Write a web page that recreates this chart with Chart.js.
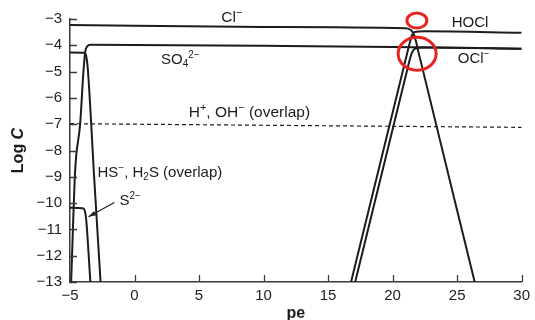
<!DOCTYPE html>
<html><head><meta charset="utf-8">
<script src="https://cdn.jsdelivr.net/npm/chart.js@4.4.0/dist/chart.umd.min.js"></script>
<style>html,body{margin:0;padding:0;background:#fff;}#wrap{width:535px;height:320px;}</style>
</head><body><div id="wrap"><canvas id="c" width="535" height="320"></canvas></div>
<script>
// ---- data (pe on x, log C on y) ----
const peTicks = [-5, 0, 5, 10, 15, 20, 25, 30];
const logCTicks = [-3, -4, -5, -6, -7, -8, -9, -10, -11, -12, -13];

const clPe   = [-5, 10, 21.0, 21.35, 21.55, 21.75, 22.0, 26.36];
const clLogC = [-3.23, -3.30, -3.35, -3.40, -3.50, -3.74, -4.25, -13];

const hoclPe   = [16.78, 21.0, 21.3, 21.5, 21.7, 22.5, 30];
const hoclLogC = [-13, -4.56, -3.96, -3.62, -3.49, -3.47, -3.52];

const oclPe   = [17.1, 21.0, 21.3, 21.5, 21.75, 22.5, 30];
const oclLogC = [-13, -5.2, -4.6, -4.28, -4.12, -4.08, -4.13];

const so4Pe   = [-4.91, -4.6, -4.21, -3.96, -3.82, -3.68, -3.4, 10, 20, 30];
const so4LogC = [-13, -8.76, -6.97, -5.0, -4.25, -4.05, -3.98, -4.02, -4.06, -4.13];

const hsPe   = [-5, -3.9, -3.75, -3.62, -3.36, -3.16, -2.63];
const hsLogC = [-4.27, -4.28, -4.4, -4.9, -6.97, -8.76, -13];

const s2Pe   = [-5, -4.0, -3.85, -3.75, -3.42];
const s2LogC = [-10.18, -10.2, -10.3, -10.6, -13];

const hohPe   = [-5, 30];
const hohLogC = [-6.98, -7.12];

// ---- label text & anchors ----
const labelParts = [
  [["Cl","n"],["\u2212","sup"]],
  [["HOCl","n"]],
  [["SO","n"],["4","sub"],["2\u2212","sup"]],
  [["OCl","n"],["\u2212","sup"]],
  [["H","n"],["+","sup"],[", OH","n"],["\u2212","sup"],[" (overlap)","n"]],
  [["HS","n"],["\u2212","sup"],[", H","n"],["2","sub"],["S (overlap)","n"]],
  [["S","n"],["2\u2212","sup"]]
];
const labelPe   = [6.72, 24.58, 2.05, 25.05, 4.2, -2.87, -1.17];
const labelLogC = [-2.92, -3.11, -4.49, -4.45, -6.52, -8.8, -9.87];
const labelSize = [15.5, 15, 15, 15, 15.5, 15, 15];

const arrowPe   = [-1.56, -3.57];
const arrowLogC = [-9.98, -10.52];

const FAM = '"Liberation Sans", Arial, Helvetica, sans-serif';
const INK = '#1c1c1c';
const AXIS = '#3a3a3a';

function pts(xs, ys){ return xs.map((x,i)=>({x:x, y:ys[i]})); }
function fmt(v){ return v < 0 ? '\u2212' + Math.abs(v) : String(v); }

function ds(xs, ys, extra){
  return Object.assign({
    data: pts(xs, ys), showLine: true, pointRadius: 0, borderColor: INK,
    borderWidth: 2, cubicInterpolationMode: 'monotone', fill: false
  }, extra || {});
}

function drawRich(ctx, x, yMid, parts, size){
  const items = parts.map(([t,k]) => {
    const s = k === 'n' ? size : Math.round(size * 0.68);
    ctx.font = s + 'px ' + FAM;
    return {t, k, s, w: ctx.measureText(t).width};
  });
  let cx = x;
  const base = yMid + size * 0.36;
  ctx.textBaseline = 'alphabetic';
  ctx.textAlign = 'left';
  for (const it of items){
    ctx.font = it.s + 'px ' + FAM;
    const dy = it.k === 'sup' ? -size * 0.4 : it.k === 'sub' ? size * 0.22 : 0;
    ctx.fillText(it.t, cx, base + dy);
    cx += it.w;
  }
}

const decor = {
  id: 'decor',
  afterDatasetsDraw(chart){
    const ctx = chart.ctx, xs = chart.scales.x, ys = chart.scales.y;
    const area = chart.chartArea;
    ctx.save();
    // inward tick marks
    ctx.strokeStyle = AXIS; ctx.lineWidth = 1.3;
    ctx.beginPath();
    logCTicks.forEach(v => { const py = Math.round(ys.getPixelForValue(v)) + 0.5; ctx.moveTo(area.left, py); ctx.lineTo(area.left + 7, py); });
    peTicks.forEach(v => { const px = Math.round(xs.getPixelForValue(v)) + 0.5; ctx.moveTo(px, area.bottom); ctx.lineTo(px, area.bottom - 7); });
    ctx.stroke();
    // labels
    ctx.fillStyle = INK;
    labelParts.forEach((p, i) => {
      drawRich(ctx, xs.getPixelForValue(labelPe[i]), ys.getPixelForValue(labelLogC[i]), p, labelSize[i]);
    });
    // arrow to S2-
    const x0 = xs.getPixelForValue(arrowPe[0]), y0 = ys.getPixelForValue(arrowLogC[0]);
    const x1 = xs.getPixelForValue(arrowPe[1]), y1 = ys.getPixelForValue(arrowLogC[1]);
    ctx.strokeStyle = INK; ctx.lineWidth = 1.2;
    ctx.beginPath(); ctx.moveTo(x0, y0); ctx.lineTo(x1, y1); ctx.stroke();
    const ang = Math.atan2(y1 - y0, x1 - x0);
    ctx.beginPath();
    ctx.moveTo(x1, y1);
    ctx.lineTo(x1 - 8 * Math.cos(ang - 0.3), y1 - 8 * Math.sin(ang - 0.3));
    ctx.lineTo(x1 - 8 * Math.cos(ang + 0.3), y1 - 8 * Math.sin(ang + 0.3));
    ctx.closePath(); ctx.fill();
    // axis titles
    ctx.save();
    ctx.translate(19, (area.top + area.bottom) / 2);
    ctx.rotate(-Math.PI / 2);
    ctx.font = 'bold 16px ' + FAM;
    const w1 = ctx.measureText('Log ').width;
    ctx.font = 'italic bold 16px ' + FAM;
    const w2 = ctx.measureText('C').width;
    ctx.textBaseline = 'middle'; ctx.textAlign = 'left';
    ctx.font = 'bold 16px ' + FAM;
    ctx.fillText('Log ', -(w1 + w2) / 2, 0);
    ctx.font = 'italic bold 16px ' + FAM;
    ctx.fillText('C', -(w1 + w2) / 2 + w1, 0);
    ctx.restore();
    ctx.font = 'bold 16px ' + FAM;
    ctx.textAlign = 'center'; ctx.textBaseline = 'alphabetic';
    ctx.fillText('pe', (area.left + area.right) / 2, 318);
    // red hand-drawn marks
    ctx.strokeStyle = '#e8231f'; ctx.lineWidth = 3;
    ctx.beginPath();
    ctx.ellipse(xs.getPixelForValue(21.88), ys.getPixelForValue(-3.06), 10, 7.5, 0, 0, Math.PI * 2);
    ctx.stroke();
    ctx.beginPath();
    ctx.ellipse(xs.getPixelForValue(21.9), ys.getPixelForValue(-4.32), 19, 16.5, 0, 0, Math.PI * 2);
    ctx.stroke();
    ctx.restore();
  }
};

new Chart(document.getElementById('c'), {
  type: 'scatter',
  data: {
    datasets: [
      ds(clPe, clLogC),
      ds(hoclPe, hoclLogC),
      ds(oclPe, oclLogC),
      ds(so4Pe, so4LogC),
      ds(hsPe, hsLogC),
      ds(s2Pe, s2LogC),
      ds(hohPe, hohLogC, {borderWidth: 1.2, borderDash: [4, 3], cubicInterpolationMode: 'default', tension: 0})
    ]
  },
  options: {
    responsive: false, animation: false, devicePixelRatio: 1,
    layout: {padding: {top: 19, right: 12, left: 0, bottom: 0}},
    plugins: {legend: {display: false}, tooltip: {enabled: false}},
    scales: {
      x: {
        type: 'linear', min: -5, max: 30,
        afterBuildTicks: s => { s.ticks = peTicks.map(v => ({value: v})); },
        afterFit: s => { s.height = 38; },
        ticks: {callback: v => fmt(v), font: {size: 15, family: FAM}, color: '#222', padding: 5, maxRotation: 0},
        grid: {drawOnChartArea: false, drawTicks: false},
        border: {display: true, color: AXIS, width: 1.5}
      },
      y: {
        type: 'linear', min: -13, max: -3,
        afterBuildTicks: s => { s.ticks = logCTicks.map(v => ({value: v})); },
        afterFit: s => { s.width = 70; },
        ticks: {callback: v => fmt(v), font: {size: 15, family: FAM}, color: '#222', padding: 8},
        grid: {drawOnChartArea: false, drawTicks: false},
        border: {display: true, color: AXIS, width: 1.5}
      }
    }
  },
  plugins: [decor]
});
</script></body></html>
